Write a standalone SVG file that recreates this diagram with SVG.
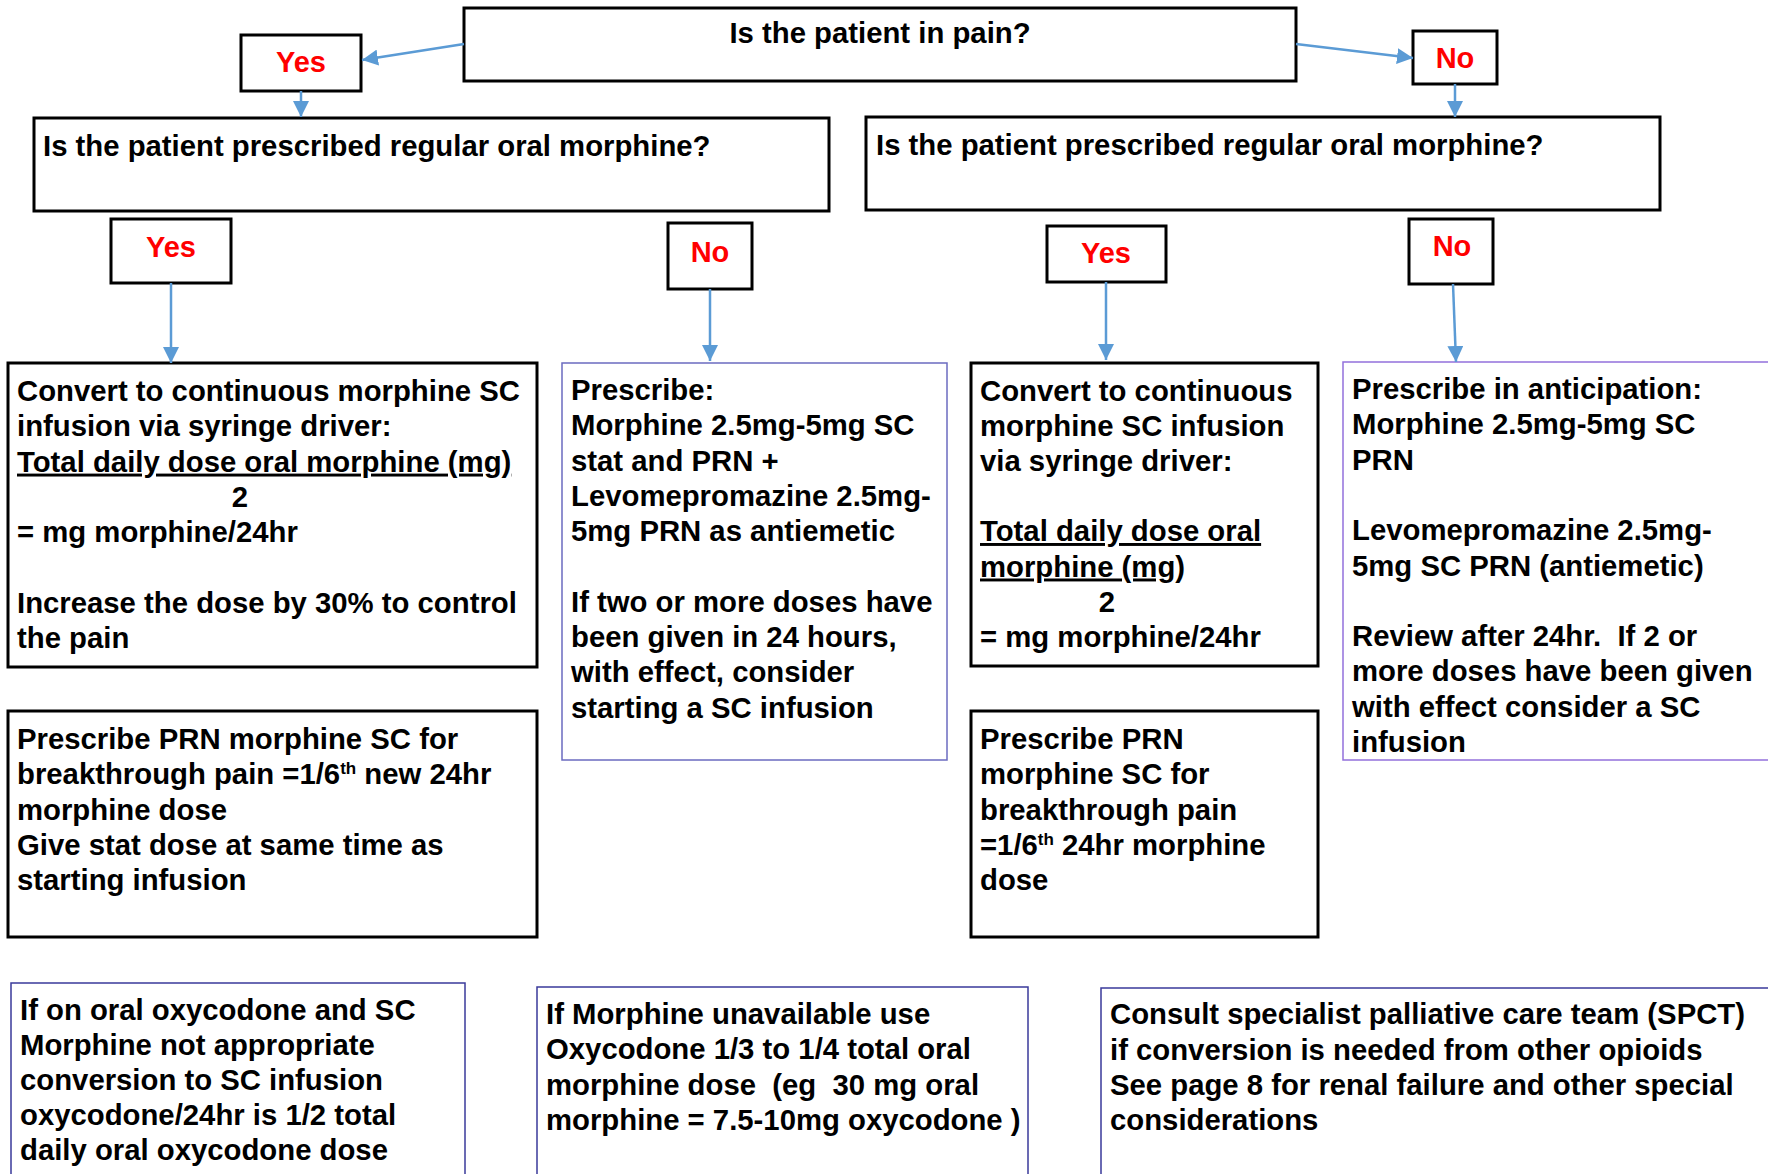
<svg xmlns="http://www.w3.org/2000/svg" width="1768" height="1174" viewBox="0 0 1768 1174">
<style>
text{font-family:"Liberation Sans",Arial,sans-serif;font-weight:bold;fill:#000;white-space:pre}
.t{font-size:29.3px}
.lbl{font-size:29px;fill:#ff0000;text-anchor:middle}
.blk{fill:#fff;stroke:#000;stroke-width:3}
.pur{fill:#fff;stroke:#6b6bc0;stroke-width:1.5}
.vio{fill:#fff;stroke:#9370db;stroke-width:1.5}
.nav{fill:#fff;stroke:#3a3a9a;stroke-width:1.5}
.con{stroke:#5b9bd5;stroke-width:2.5;fill:none;marker-end:url(#ah)}
.u{text-decoration:underline}
.sup{font-size:17px}
</style>
<defs>
<marker id="ah" markerUnits="userSpaceOnUse" markerWidth="16" markerHeight="16" refX="15" refY="7.5" orient="auto" viewBox="0 0 15 15">
<path d="M0,0 L15,7.5 L0,15 z" fill="#5b9bd5"/>
</marker>
</defs>
<rect width="1768" height="1174" fill="#fff"/>

<g id="q-pain">
<rect class="blk" x="464" y="8" width="832" height="73"/>
<text class="t" x="880" y="43" text-anchor="middle">Is the patient in pain?</text>
</g>
<g id="yes-top">
<rect class="blk" x="241" y="35" width="120" height="56"/>
<text class="lbl" x="301" y="72">Yes</text>
</g>
<g id="no-top">
<rect class="blk" x="1413" y="31" width="84" height="53"/>
<text class="lbl" x="1455" y="68">No</text>
</g>
<g id="q-left">
<rect class="blk" x="34" y="118" width="795" height="93"/>
<text class="t" x="43" y="156">Is the patient prescribed regular oral morphine?</text>
</g>
<g id="q-right">
<rect class="blk" x="866" y="117" width="794" height="93"/>
<text class="t" x="876" y="155">Is the patient prescribed regular oral morphine?</text>
</g>
<g id="yes-left">
<rect class="blk" x="111" y="219" width="120" height="64"/>
<text class="lbl" x="171" y="257">Yes</text>
</g>
<g id="no-left">
<rect class="blk" x="668" y="223" width="84" height="66"/>
<text class="lbl" x="710" y="262">No</text>
</g>
<g id="yes-right">
<rect class="blk" x="1047" y="226" width="119" height="56"/>
<text class="lbl" x="1106" y="263">Yes</text>
</g>
<g id="no-right">
<rect class="blk" x="1409" y="219" width="84" height="65"/>
<text class="lbl" x="1452" y="256">No</text>
</g>

<g id="convert-left">
<rect class="blk" x="8" y="363" width="529" height="304"/>
<text class="t" x="17" y="401">Convert to continuous morphine SC</text>
<text class="t" x="17" y="436.3">infusion via syringe driver:</text>
<text class="t u" x="17" y="471.6">Total daily dose oral morphine (mg)</text>
<text class="t" x="240" y="506.9" text-anchor="middle">2</text>
<text class="t" x="17" y="542.2">= mg morphine/24hr</text>
<text class="t" x="17" y="612.8">Increase the dose by 30% to control</text>
<text class="t" x="17" y="648.1">the pain</text>
</g>
<g id="prn-left">
<rect class="blk" x="8" y="711" width="529" height="226"/>
<text class="t" x="17" y="749">Prescribe PRN morphine SC for</text>
<text class="t" x="17" y="784.3">breakthrough pain =1/6<tspan class="sup" dy="-10">th</tspan><tspan dy="10"> new 24hr</tspan></text>
<text class="t" x="17" y="819.6">morphine dose</text>
<text class="t" x="17" y="854.9">Give stat dose at same time as</text>
<text class="t" x="17" y="890.2">starting infusion</text>
</g>
<g id="prescribe-left">
<rect class="pur" x="562" y="363" width="385" height="397"/>
<text class="t" x="571" y="400">Prescribe:</text>
<text class="t" x="571" y="435.3">Morphine 2.5mg-5mg SC</text>
<text class="t" x="571" y="470.6">stat and PRN +</text>
<text class="t" x="571" y="505.9">Levomepromazine 2.5mg-</text>
<text class="t" x="571" y="541.2">5mg PRN as antiemetic</text>
<text class="t" x="571" y="611.8">If two or more doses have</text>
<text class="t" x="571" y="647.1">been given in 24 hours,</text>
<text class="t" x="571" y="682.4">with effect, consider</text>
<text class="t" x="571" y="717.7">starting a SC infusion</text>
</g>
<g id="convert-right">
<rect class="blk" x="971" y="363" width="347" height="303"/>
<text class="t" x="980" y="401">Convert to continuous</text>
<text class="t" x="980" y="436">morphine SC infusion</text>
<text class="t" x="980" y="471">via syringe driver:</text>
<text class="t u" x="980" y="541">Total daily dose oral</text>
<text class="t" x="980" y="576.5"><tspan class="u">morphine (mg</tspan>)</text>
<text class="t" x="1107" y="612" text-anchor="middle">2</text>
<text class="t" x="980" y="647">= mg morphine/24hr</text>
</g>
<g id="prn-right">
<rect class="blk" x="971" y="711" width="347" height="226"/>
<text class="t" x="980" y="749">Prescribe PRN</text>
<text class="t" x="980" y="784.3">morphine SC for</text>
<text class="t" x="980" y="819.6">breakthrough pain</text>
<text class="t" x="980" y="854.9">=1/6<tspan class="sup" dy="-10">th</tspan><tspan dy="10"> 24hr morphine</tspan></text>
<text class="t" x="980" y="890.2">dose</text>
</g>
<g id="anticipation">
<rect class="vio" x="1343" y="362" width="440" height="398"/>
<text class="t" x="1352" y="399">Prescribe in anticipation:</text>
<text class="t" x="1352" y="434.3">Morphine 2.5mg-5mg SC</text>
<text class="t" x="1352" y="469.6">PRN</text>
<text class="t" x="1352" y="540.2">Levomepromazine 2.5mg-</text>
<text class="t" x="1352" y="575.5">5mg SC PRN (antiemetic)</text>
<text class="t" x="1352" y="646.1">Review after 24hr.  If 2 or</text>
<text class="t" x="1352" y="681.4">more doses have been given</text>
<text class="t" x="1352" y="716.7">with effect consider a SC</text>
<text class="t" x="1352" y="752">infusion</text>
</g>

<g id="note-oxycodone">
<rect class="nav" x="11" y="983" width="454" height="200"/>
<text class="t" x="20" y="1020">If on oral oxycodone and SC</text>
<text class="t" x="20" y="1055">Morphine not appropriate</text>
<text class="t" x="20" y="1090">conversion to SC infusion</text>
<text class="t" x="20" y="1125">oxycodone/24hr is 1/2 total</text>
<text class="t" x="20" y="1160">daily oral oxycodone dose</text>
</g>
<g id="note-unavailable">
<rect class="nav" x="537" y="987" width="491" height="200"/>
<text class="t" x="546" y="1024">If Morphine unavailable use</text>
<text class="t" x="546" y="1059">Oxycodone 1/3 to 1/4 total oral</text>
<text class="t" x="546" y="1094.5">morphine dose  (eg  30 mg oral</text>
<text class="t" x="546" y="1129.5">morphine = 7.5-10mg oxycodone )</text>
</g>
<g id="note-spct">
<rect class="nav" x="1101" y="988" width="680" height="200"/>
<text class="t" x="1110" y="1024">Consult specialist palliative care team (SPCT)</text>
<text class="t" x="1110" y="1059.5">if conversion is needed from other opioids</text>
<text class="t" x="1110" y="1094.5">See page 8 for renal failure and other special</text>
<text class="t" x="1110" y="1129.5">considerations</text>
</g>

<g id="connectors">
<line class="con" x1="464" y1="44" x2="362" y2="60"/>
<line class="con" x1="301" y1="91" x2="301" y2="117"/>
<line class="con" x1="1296" y1="44" x2="1413" y2="58"/>
<line class="con" x1="1455" y1="84" x2="1455" y2="117"/>
<line class="con" x1="171" y1="283" x2="171" y2="363"/>
<line class="con" x1="710" y1="289" x2="710" y2="361"/>
<line class="con" x1="1106" y1="282" x2="1106" y2="360"/>
<line class="con" x1="1453" y1="284" x2="1456" y2="362"/>
</g>
</svg>
